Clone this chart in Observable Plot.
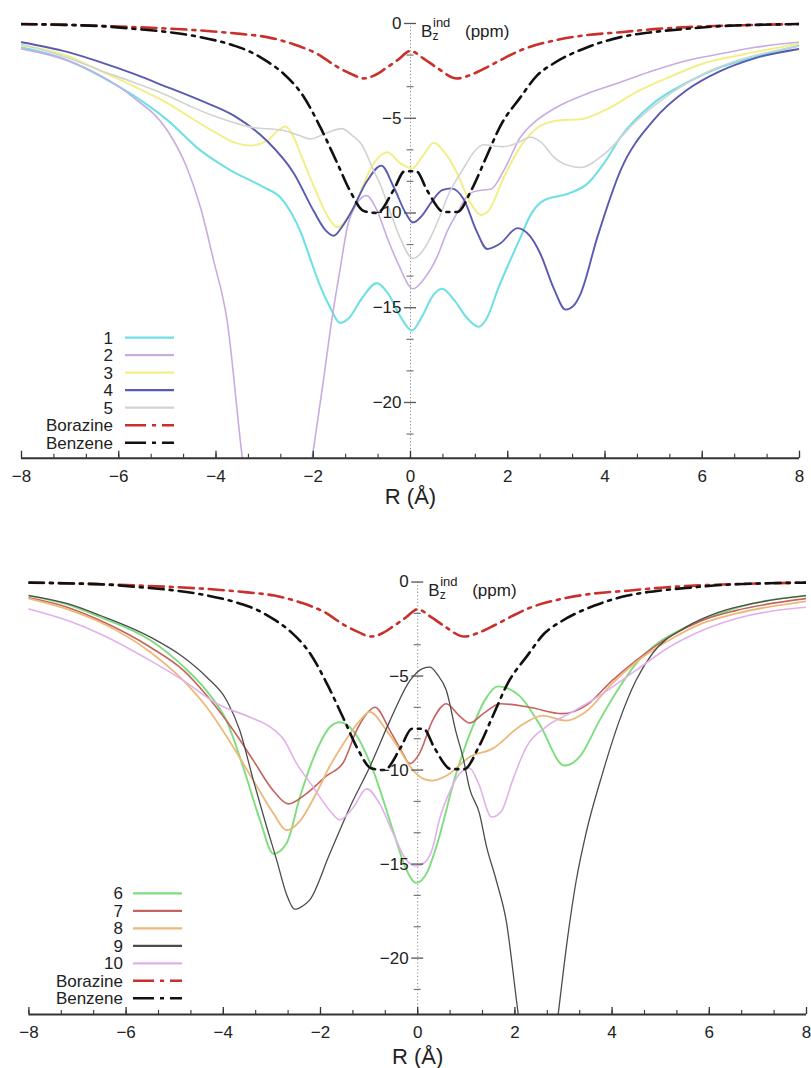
<!DOCTYPE html>
<html>
<head>
<meta charset="utf-8">
<script src="https://cdn.jsdelivr.net/npm/d3@7"></script>
<script src="https://cdn.jsdelivr.net/npm/@observablehq/plot@0.6"></script>
<style>
  html, body { margin: 0; padding: 0; background: #fff; }
  #wrap { position: relative; width: 811px; height: 1068px; overflow: hidden; background: #fff; }
  #wrap svg { position: absolute; left: 0; }
</style>
</head>
<body>
<div id="wrap"></div>
<script>
// ---------------- DATA ----------------
const xTicks = [-8, -6, -4, -2, 0, 2, 4, 6, 8];
const xTickLabels = ["\u22128", "\u22126", "\u22124", "\u22122", "0", "2", "4", "6", "8"];
const yTicks = [0, -5, -10, -15, -20];
const yTickLabels = ["0", "\u22125", "\u221210", "\u221215", "\u221220"];
const xTitle = "R (\u00C5)";

const topNames = ["1", "2", "3", "4", "5", "Borazine", "Benzene"];
const bottomNames = ["6", "7", "8", "9", "10", "Borazine", "Benzene"];

// [R (Å), Bz_ind (ppm)]
const borazine = [[-8,-0.04],[-7,-0.08],[-5.7,-0.19],[-4.32,-0.37],[-3.5,-0.55],[-2.95,-0.72],[-2.4,-1.1],[-1.92,-1.6],[-1.5,-2.3],[-1.23,-2.65],[-0.96,-2.9],[-0.75,-2.75],[-0.5,-2.35],[-0.25,-1.9],[0,-1.45],[0.27,-1.85],[0.55,-2.35],[0.96,-2.9],[1.25,-2.7],[1.58,-2.3],[1.95,-1.8],[2.26,-1.42],[2.95,-0.9],[3.6,-0.62],[4.32,-0.46],[5.0,-0.3],[5.7,-0.19],[7,-0.08],[8,-0.03]];
const benzene = [[-8,-0.03],[-7,-0.08],[-6.3,-0.15],[-5.7,-0.28],[-5.0,-0.45],[-4.32,-0.72],[-3.65,-1.15],[-3.29,-1.5],[-2.95,-2.0],[-2.61,-2.65],[-2.2,-3.85],[-1.85,-5.5],[-1.51,-7.35],[-1.23,-8.9],[-0.96,-9.9],[-0.69,-10.0],[-0.35,-8.8],[-0.12,-7.8],[0.12,-7.8],[0.34,-8.8],[0.69,-9.95],[0.96,-9.95],[1.25,-8.8],[1.55,-7.1],[1.85,-5.4],[2.26,-3.9],[2.6,-2.75],[2.95,-2.1],[3.64,-1.25],[4.32,-0.72],[5.0,-0.45],[5.69,-0.28],[6.3,-0.15],[7,-0.08],[8,-0.03]];

const s1 = [[-8,-1.25],[-7.2,-1.8],[-6.4,-2.75],[-5.7,-3.8],[-5.0,-5.1],[-4.32,-6.7],[-3.7,-7.75],[-3.02,-8.64],[-2.67,-9.2],[-2.45,-10.0],[-2.26,-11.0],[-2.05,-12.5],[-1.85,-13.9],[-1.65,-15.0],[-1.45,-15.8],[-1.25,-15.5],[-1.0,-14.5],[-0.69,-13.7],[-0.45,-14.3],[-0.2,-15.5],[0.03,-16.2],[0.25,-15.4],[0.45,-14.4],[0.65,-14.0],[0.9,-14.6],[1.15,-15.5],[1.4,-16.0],[1.58,-15.5],[1.8,-14.0],[2.05,-12.5],[2.26,-11.3],[2.47,-10.1],[2.74,-9.34],[3.22,-9.0],[3.64,-8.45],[4.0,-7.3],[4.32,-6.0],[5.0,-4.2],[5.7,-3.1],[6.38,-2.3],[7.06,-1.78],[8,-1.16]];
const s2 = [[-8,-1.34],[-7.06,-1.95],[-6.38,-2.74],[-5.7,-3.9],[-5.0,-5.65],[-4.6,-7.6],[-4.32,-9.7],[-4.05,-12.5],[-3.77,-15.7],[-3.46,-22.9],[-3.2,-27.5],[-2.75,-31],[-2.3,-27.5],[-2.02,-22.9],[-1.8,-19.0],[-1.61,-15.5],[-1.45,-13.0],[-1.3,-10.75],[-1.1,-9.5],[-0.91,-9.08],[-0.7,-9.8],[-0.48,-11.3],[-0.25,-12.7],[0.05,-14.0],[0.3,-13.4],[0.55,-12.3],[0.75,-11.0],[0.96,-10.0],[1.23,-8.95],[1.45,-8.8],[1.65,-8.75],[1.92,-7.75],[2.26,-6.0],[2.6,-5.1],[2.95,-4.5],[3.64,-3.7],[4.32,-3.1],[5.0,-2.48],[5.69,-1.95],[6.38,-1.6],[7.06,-1.27],[8,-0.99]];
const s3 = [[-8,-1.16],[-7.06,-1.7],[-6.38,-2.5],[-5.7,-3.3],[-5.0,-4.2],[-4.5,-5.0],[-3.98,-5.8],[-3.6,-6.3],[-3.29,-6.44],[-2.95,-6.2],[-2.75,-5.7],[-2.57,-5.44],[-2.4,-6.0],[-2.26,-6.9],[-1.92,-9.0],[-1.7,-10.2],[-1.5,-10.75],[-1.3,-10.3],[-1.17,-9.7],[-0.76,-7.4],[-0.48,-6.8],[-0.2,-7.4],[0.03,-7.65],[0.25,-7.0],[0.48,-6.3],[0.7,-6.8],[0.96,-7.9],[1.2,-9.3],[1.45,-10.1],[1.6,-9.9],[1.92,-8.1],[2.26,-6.5],[2.67,-5.4],[3.09,-5.1],[3.5,-5.05],[3.98,-4.6],[4.66,-3.6],[5.35,-2.8],[6.03,-2.1],[6.72,-1.7],[8,-1.07]];
const s4 = [[-8,-0.99],[-7.06,-1.5],[-6.38,-2.04],[-5.7,-2.65],[-5.0,-3.36],[-4.32,-4.06],[-3.64,-4.85],[-2.95,-6.2],[-2.4,-7.9],[-1.99,-9.9],[-1.75,-10.9],[-1.58,-11.2],[-1.4,-10.7],[-1.23,-10.0],[-0.89,-8.3],[-0.6,-7.5],[-0.35,-8.6],[-0.1,-10.0],[0.05,-10.5],[0.25,-10.1],[0.41,-9.5],[0.65,-8.8],[0.84,-8.7],[1.1,-9.3],[1.35,-10.9],[1.58,-11.9],[1.85,-11.6],[2.2,-10.8],[2.45,-11.2],[2.67,-12.15],[2.95,-14.0],[3.19,-15.1],[3.35,-14.9],[3.5,-14.25],[3.84,-11.3],[4.32,-7.75],[5.0,-5.1],[5.69,-3.5],[6.38,-2.5],[7.06,-1.85],[8,-1.34]];
const s5 = [[-8,-1.1],[-7.06,-1.8],[-6.38,-2.48],[-5.7,-3.1],[-5.0,-3.8],[-4.5,-4.4],[-3.98,-4.94],[-3.29,-5.47],[-2.61,-5.65],[-2.3,-5.9],[-2.06,-6.1],[-1.75,-5.8],[-1.41,-5.55],[-1.2,-5.9],[-1.0,-6.4],[-0.76,-7.75],[-0.62,-8.5],[-0.41,-10.0],[-0.2,-11.4],[0.05,-12.4],[0.25,-12.0],[0.41,-11.3],[0.6,-10.2],[0.75,-9.2],[1.1,-7.6],[1.3,-6.8],[1.5,-6.4],[1.92,-6.5],[2.2,-6.3],[2.47,-6.0],[2.7,-6.3],[2.95,-7.05],[3.25,-7.5],[3.5,-7.6],[3.98,-6.9],[4.66,-5.1],[5.35,-3.7],[6.03,-2.65],[6.72,-1.95],[8,-1.2]];

const s6 = [[-8,-0.72],[-7.2,-1.2],[-6.53,-1.87],[-5.5,-3.1],[-4.82,-4.5],[-4.34,-5.8],[-3.93,-7.4],[-3.59,-9.85],[-3.24,-12.7],[-2.97,-14.45],[-2.7,-13.9],[-2.42,-11.4],[-2.08,-8.96],[-1.8,-7.7],[-1.6,-7.46],[-1.33,-7.9],[-0.92,-10.0],[-0.51,-13.2],[-0.25,-15.2],[-0.03,-16.0],[0.2,-15.4],[0.38,-14.1],[0.79,-10.2],[1.13,-7.7],[1.4,-6.2],[1.65,-5.55],[2.09,-6.04],[2.5,-7.53],[3.02,-9.76],[3.33,-9.3],[3.74,-7.37],[4.15,-5.6],[4.49,-4.35],[4.83,-3.47],[5.52,-2.4],[6.2,-1.68],[6.88,-1.15],[8,-0.72]];
const s7 = [[-8,-0.84],[-7.2,-1.35],[-6.53,-2.05],[-5.5,-3.47],[-4.82,-4.7],[-4.34,-6.04],[-3.79,-7.9],[-3.38,-9.5],[-2.97,-11.1],[-2.66,-11.8],[-2.29,-11.25],[-1.87,-10.3],[-1.53,-9.6],[-1.26,-7.9],[-1.05,-7.0],[-0.88,-6.66],[-0.57,-7.9],[-0.35,-8.9],[-0.16,-9.66],[0.04,-9.1],[0.3,-7.4],[0.59,-6.47],[0.85,-7.1],[1.07,-7.5],[1.35,-7.0],[1.7,-6.47],[2.3,-6.66],[2.98,-7.0],[3.46,-6.57],[4.0,-5.24],[4.49,-4.18],[5.17,-2.93],[5.85,-2.05],[6.54,-1.52],[8,-0.88]];
const s8 = [[-8,-0.88],[-7.2,-1.45],[-6.53,-2.14],[-5.5,-3.73],[-4.82,-5.24],[-4.34,-6.66],[-3.79,-8.8],[-3.38,-10.56],[-2.97,-12.3],[-2.7,-13.2],[-2.42,-12.7],[-2.1,-11.3],[-1.81,-9.8],[-1.53,-8.6],[-1.19,-7.37],[-0.99,-6.9],[-0.64,-7.9],[-0.35,-9.0],[-0.16,-9.8],[0.15,-10.5],[0.3,-10.56],[0.59,-10.3],[1.07,-9.3],[1.54,-8.86],[2.09,-7.7],[2.57,-7.1],[3.05,-7.37],[3.46,-6.9],[4.0,-5.4],[4.49,-4.27],[5.17,-3.1],[5.85,-2.2],[6.54,-1.68],[8,-1.02]];
const s9 = [[-8,-0.72],[-7.2,-1.15],[-6.53,-1.78],[-5.5,-2.93],[-4.82,-4.0],[-4.34,-5.06],[-3.93,-6.3],[-3.66,-7.9],[-3.38,-10.56],[-3.11,-13.0],[-2.9,-14.8],[-2.7,-16.6],[-2.53,-17.4],[-2.35,-17.2],[-2.22,-16.9],[-1.81,-14.45],[-1.4,-12.0],[-0.99,-9.85],[-0.57,-7.37],[-0.16,-5.24],[0.1,-4.6],[0.25,-4.53],[0.4,-4.9],[0.59,-5.77],[0.79,-8.0],[0.93,-9.3],[1.07,-11.0],[1.27,-12.3],[1.41,-14.0],[1.62,-15.9],[1.82,-18.0],[2.07,-23.0],[2.3,-27],[2.5,-28.5],[2.7,-27],[2.89,-23.0],[3.08,-19.0],[3.26,-15.9],[3.46,-13.4],[3.8,-10.2],[4.15,-7.37],[4.49,-5.24],[4.83,-3.8],[5.52,-2.4],[6.2,-1.6],[6.88,-1.15],[8,-0.72]];
const s10 = [[-8,-1.43],[-7.2,-2.05],[-6.53,-2.76],[-5.5,-4.18],[-4.82,-5.24],[-4.13,-6.47],[-3.45,-7.19],[-3.04,-7.7],[-2.75,-8.4],[-2.49,-9.66],[-2.15,-10.9],[-1.81,-12.15],[-1.6,-12.65],[-1.33,-12.0],[-1.05,-11.0],[-0.78,-11.8],[-0.5,-13.4],[-0.23,-14.8],[-0.04,-15.1],[0.15,-14.9],[0.3,-14.2],[0.45,-12.6],[0.65,-11.2],[0.86,-10.2],[1.07,-9.9],[1.25,-10.7],[1.52,-12.5],[1.72,-12.2],[1.95,-10.56],[2.23,-8.8],[2.64,-7.7],[3.12,-7.0],[3.8,-5.95],[4.49,-4.7],[5.17,-3.47],[5.85,-2.58],[6.54,-1.95],[8,-1.34]];

const topColors = ["#6fe0e4", "#c9abe0", "#f2ef88", "#5a5ab2", "#d2d2d2"];
const bottomColors = ["#7edd7e", "#c4645f", "#ecb97a", "#4c4c4c", "#e2b0ea"];
const boraColor = "#c8302c";
const benzColor = "#111111";

// ---------------- DRAWING ----------------
const FONT = "'Liberation Sans', Arial, Helvetica, sans-serif";
const wrap = document.getElementById("wrap");
const DASHDOT = "15,6,3,6";

function makePanel(cfg) {
  const {series, colors, widths, top, height, marginTop, marginBottom, marginLeft, marginRight, yMin} = cfg;
  const yMax = 0.3;
  const pxPerY = (height - marginTop - marginBottom) / (yMax - yMin);
  const pxPerX = (811 - marginLeft - marginRight) / 16;
  const xMinor = d3.range(0, 25).map(k => -8 + k * 2 / 3);
  const yMinor = d3.range(0, 14).map(k => -k * 5 / 3).filter(v => Math.abs(v / 5 - Math.round(v / 5)) > 1e-6 && v >= yMin);

  const lineMarks = series.map((s, i) => Plot.line(s, {
    x: d => d[0], y: d => d[1], stroke: colors[i], strokeWidth: widths[i],
    curve: "monotone-x", clip: true
  }));

  const plot = Plot.plot({
    width: 811, height,
    marginTop, marginBottom, marginLeft, marginRight,
    x: {domain: [-8, 8], axis: null},
    y: {domain: [yMin, yMax], axis: null},
    style: {fontFamily: FONT, background: "transparent", overflow: "visible"},
    marks: [
      // dotted vertical axis at R = 0
      Plot.ruleX([0], {y1: 0, y2: yMin, stroke: "#8a8a8a", strokeWidth: 1, strokeDasharray: "1.2,2.2"}),
      ...lineMarks,
      Plot.line(borazine, {x: d => d[0], y: d => d[1], stroke: boraColor, strokeWidth: 2.6, strokeDasharray: DASHDOT, curve: "monotone-x", clip: true}),
      Plot.line(benzene, {x: d => d[0], y: d => d[1], stroke: benzColor, strokeWidth: 2.6, strokeDasharray: DASHDOT, curve: "monotone-x", clip: true}),
      // y ticks on the R = 0 axis
      Plot.ruleY(yTicks, {y: d => d, x1: -6 / pxPerX, x2: 6 / pxPerX, stroke: "#555", strokeWidth: 1.3}),
      Plot.ruleY(yMinor, {y: d => d, x1: -3.5 / pxPerX, x2: 3.5 / pxPerX, stroke: "#777", strokeWidth: 1.2}),
      Plot.text(yTicks, {x: 0, y: d => d, text: (d, i) => yTickLabels[i], textAnchor: "end", dx: -9, fontSize: 17, fill: "#222"}),
      // bottom x axis
      Plot.ruleY([yMin], {stroke: "#333", strokeWidth: 2}),
      Plot.ruleX(xTicks, {x: d => d, y1: yMin, y2: yMin + 7 / pxPerY, stroke: "#333", strokeWidth: 1.3}),
      Plot.ruleX(xMinor, {x: d => d, y1: yMin, y2: yMin + 4 / pxPerY, stroke: "#333", strokeWidth: 1.1}),
      Plot.text(xTicks, {x: d => d, y: yMin, text: (d, i) => xTickLabels[i], dy: 18, fontSize: 17, fill: "#222"}),
      Plot.text([xTitle], {x: 0, y: yMin, text: d => d, dy: cfg.titleDy, fontSize: 22, fill: "#222"})
    ]
  });
  plot.style.top = top + "px";
  wrap.appendChild(plot);
  return plot;
}

const topPlot = makePanel({
  series: [s1, s2, s3, s4, s5], colors: topColors, widths: [2.1, 1.6, 2.0, 1.9, 1.6],
  top: 0, height: 530, marginTop: 17.3, marginBottom: 72.3, marginLeft: 21, marginRight: 12,
  yMin: -22.94, titleDy: 39
});
const bottomPlot = makePanel({
  series: [s6, s7, s8, s9, s10], colors: bottomColors, widths: [1.9, 1.6, 1.8, 1.3, 1.6],
  top: 530, height: 538, marginTop: 45.9, marginBottom: 54, marginLeft: 28.4, marginRight: 5,
  yMin: -23.0, titleDy: 42
});

// ---------------- OVERLAY: y titles + legends ----------------
const overlay = d3.select(wrap).append("svg")
  .attr("width", 811).attr("height", 1068)
  .style("top", "0px").style("pointer-events", "none")
  .style("font-family", FONT);

function yTitle(plot, offsetTop) {
  const x0 = plot.scale("x").apply(0);
  const y0 = plot.scale("y").apply(0) + offsetTop;
  const g = overlay.append("g").attr("fill", "#222");
  g.append("text").attr("x", x0 + 11).attr("y", y0 + 14).attr("font-size", 17).text("B");
  g.append("text").attr("x", x0 + 22.5).attr("y", y0 + 17).attr("font-size", 12).text("z");
  g.append("text").attr("x", x0 + 23).attr("y", y0 + 4).attr("font-size", 13).text("ind");
  g.append("text").attr("x", x0 + 55).attr("y", y0 + 14).attr("font-size", 17).text("(ppm)");
}
yTitle(topPlot, 0);
yTitle(bottomPlot, 530);

function legend(names, colors, labelRight, lineX1, lineX2, y0) {
  const g = overlay.append("g");
  names.forEach((name, i) => {
    const y = y0 + i * 17.5;
    g.append("text").attr("x", labelRight).attr("y", y).attr("dy", "0.36em")
      .attr("text-anchor", "end").attr("font-size", 17).attr("fill", "#222").text(name);
    const isBora = name === "Borazine", isBenz = name === "Benzene";
    const stroke = isBora ? boraColor : isBenz ? benzColor : colors[i];
    g.append("line").attr("x1", lineX1).attr("x2", lineX2).attr("y1", y).attr("y2", y)
      .attr("stroke", stroke)
      .attr("stroke-width", (isBora || isBenz) ? 2.6 : 2.3)
      .attr("stroke-dasharray", (isBora || isBenz) ? "21,6,4,6" : null);
  });
}
legend(topNames, topColors, 113, 125, 174, 337.7);
legend(bottomNames, bottomColors, 123, 133, 182, 893.3);
</script>
</body>
</html>
